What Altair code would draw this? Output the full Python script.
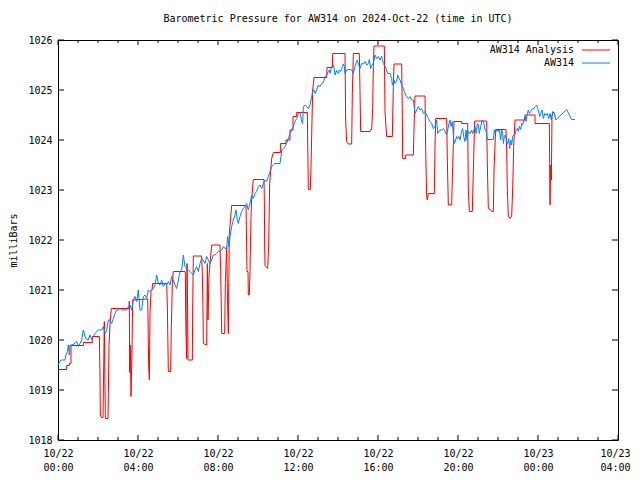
import altair as alt
import pandas as pd

TITLE = "Barometric Pressure for AW314 on 2024-Oct-22 (time in UTC)"
Y_TITLE = "milliBars"
SERIES = ["AW314 Analysis", "AW314"]
COLORS = ["#ff0000", "#0080ff"]
X_MAJOR = [0, 4, 8, 12, 16, 20, 24, 28]
X_MINOR = [1, 2, 3, 5, 6, 7, 9, 10, 11, 13, 14, 15, 17, 18, 19, 21, 22, 23, 25, 26, 27]
Y_TICKS = [1018, 1019, 1020, 1021, 1022, 1023, 1024, 1025, 1026]

# (minutes after 2024-10-22 00:00 UTC, millibars)
RED = [
    (0, 1019.41), (26, 1019.41), (26, 1019.49), (34, 1019.49), (34, 1019.53), (39, 1019.53),
    (39, 1019.89), (76, 1019.89), (76, 1019.95), (103, 1019.95), (103, 1020.07), (124, 1020.07),
    (126, 1019.3), (127, 1018.5), (130, 1018.45), (135, 1018.45), (137, 1019.4), (139, 1020.37),
    (141, 1019.0), (142, 1018.43), (150, 1018.43), (151, 1018.93), (153, 1019.89), (156, 1020.33),
    (160, 1020.63), (213, 1020.63), (214, 1020.78), (215, 1019.35), (217, 1019.9), (219, 1018.87),
    (222, 1019.8), (224, 1020.8), (269, 1020.82), (270, 1020.47), (271, 1019.93), (272, 1019.5),
    (274, 1019.2), (276, 1020.53), (279, 1020.97), (282, 1021.0), (284, 1021.13), (326, 1021.13),
    (328, 1020.7), (330, 1019.8), (331, 1019.37), (338, 1019.37), (340, 1020.27), (343, 1021.13),
    (346, 1021.37), (381, 1021.37), (382, 1021.33), (383, 1020.53), (384, 1020.1), (386, 1019.63),
    (387, 1021.53), (389, 1020.6), (390, 1019.6), (403, 1019.6), (404, 1020.6), (406, 1021.68),
    (431, 1021.68), (433, 1021.33), (435, 1020.6), (436, 1019.93), (446, 1019.9), (448, 1021.53),
    (450, 1020.4), (453, 1021.3), (461, 1021.9), (486, 1021.9), (488, 1021.4), (490, 1020.6),
    (491, 1020.13), (500, 1020.13), (502, 1021.13), (506, 1021.87), (509, 1020.67), (511, 1020.13),
    (514, 1022.13), (521, 1022.69), (564, 1022.69), (565, 1022.27), (567, 1021.37), (570, 1021.37),
    (571, 1020.9), (574, 1020.9), (576, 1021.37), (579, 1022.47), (581, 1022.8), (586, 1023.21),
    (618, 1023.21), (619, 1022.8), (620, 1021.9), (621, 1021.49), (629, 1021.43), (632, 1021.9),
    (635, 1023.13), (641, 1023.63), (646, 1023.75), (668, 1023.75), (668, 1023.93), (684, 1023.93),
    (684, 1024.0), (696, 1024.0), (696, 1024.2), (705, 1024.2), (705, 1024.47), (716, 1024.47),
    (716, 1024.55), (748, 1024.55), (749, 1024.0), (751, 1023.01), (757, 1023.01), (759, 1023.47),
    (762, 1024.4), (764, 1025.0), (768, 1025.25), (806, 1025.25), (807, 1025.45), (823, 1025.45),
    (824, 1025.73), (861, 1025.73), (863, 1024.4), (866, 1023.97), (871, 1023.92), (881, 1023.92),
    (883, 1024.93), (886, 1025.73), (904, 1025.73), (906, 1024.97), (908, 1024.17), (936, 1024.17),
    (938, 1024.21), (941, 1024.21), (944, 1024.63), (946, 1025.47), (948, 1025.88), (979, 1025.88),
    (981, 1024.57), (986, 1024.07), (1003, 1024.07), (1006, 1025.07), (1008, 1025.52), (1031, 1025.52),
    (1033, 1024.47), (1034, 1023.63), (1043, 1023.63), (1043, 1023.7), (1066, 1023.7), (1069, 1024.43),
    (1071, 1024.88), (1101, 1024.88), (1103, 1023.83), (1106, 1022.87), (1108, 1022.8), (1111, 1022.93),
    (1129, 1022.93), (1131, 1023.87), (1133, 1024.43), (1166, 1024.43), (1168, 1023.6), (1171, 1022.7),
    (1181, 1022.7), (1184, 1023.47), (1188, 1024.37), (1211, 1024.37), (1211, 1024.33), (1229, 1024.33),
    (1231, 1023.0), (1234, 1022.57), (1243, 1022.57), (1246, 1023.4), (1250, 1024.38), (1286, 1024.38),
    (1288, 1023.5), (1291, 1022.63), (1298, 1022.6), (1301, 1022.57), (1306, 1022.57), (1308, 1023.4),
    (1313, 1024.21), (1344, 1024.21), (1346, 1023.8), (1348, 1023.0), (1351, 1022.48), (1356, 1022.43),
    (1361, 1022.48), (1364, 1023.0), (1367, 1023.87), (1371, 1024.4), (1401, 1024.4), (1401, 1024.5),
    (1431, 1024.5), (1431, 1024.33), (1474, 1024.33), (1475, 1023.53), (1476, 1022.7), (1478, 1023.5),
    (1480, 1023.2), (1482, 1024.47), (1484, 1024.55), (1488, 1024.55), (1491, 1024.47),
]

BLUE = [
    (0, 1019.5), (8, 1019.6), (21, 1019.6), (24, 1019.7), (28, 1019.77), (31, 1019.9), (34, 1019.7),
    (36, 1019.9), (41, 1019.9), (51, 1019.93), (56, 1019.97), (61, 1019.87), (66, 1019.93), (71, 1020.0),
    (76, 1020.2), (81, 1020.07), (86, 1020.01), (91, 1020.0), (96, 1020.1), (101, 1020.01), (106, 1020.07),
    (111, 1020.13), (116, 1020.17), (121, 1020.2), (126, 1020.2), (131, 1020.2), (136, 1020.27),
    (141, 1020.13), (146, 1020.2), (151, 1020.4), (156, 1020.4), (161, 1020.33), (166, 1020.43),
    (171, 1020.53), (176, 1020.6), (181, 1020.6), (186, 1020.63), (191, 1020.6), (196, 1020.6),
    (201, 1020.6), (206, 1020.6), (211, 1020.67), (216, 1020.7), (221, 1020.6), (226, 1020.8),
    (231, 1020.87), (236, 1020.77), (241, 1021.0), (246, 1020.6), (251, 1020.6), (256, 1020.87),
    (261, 1020.9), (266, 1020.83), (271, 1021.0), (276, 1020.97), (281, 1021.0), (286, 1021.03),
    (291, 1021.1), (296, 1021.3), (301, 1021.13), (306, 1021.1), (311, 1021.2), (316, 1021.07),
    (321, 1021.13), (326, 1021.1), (331, 1021.17), (336, 1021.1), (341, 1021.27), (346, 1021.2),
    (351, 1021.1), (356, 1021.03), (361, 1021.2), (366, 1021.37), (371, 1021.4), (376, 1021.7),
    (381, 1021.47), (386, 1021.43), (391, 1021.4), (396, 1021.37), (401, 1021.33), (406, 1021.3),
    (411, 1021.4), (416, 1021.47), (421, 1021.37), (426, 1021.53), (431, 1021.63), (436, 1021.6),
    (441, 1021.53), (446, 1021.67), (451, 1021.6), (456, 1021.53), (461, 1021.6), (466, 1021.7),
    (471, 1021.7), (476, 1021.73), (481, 1021.77), (486, 1021.77), (491, 1021.8), (496, 1021.87),
    (501, 1021.83), (506, 1021.83), (509, 1022.07), (513, 1021.87), (516, 1022.07), (521, 1022.27),
    (526, 1022.4), (531, 1022.5), (534, 1022.6), (538, 1022.4), (541, 1022.33), (546, 1022.47),
    (551, 1022.57), (556, 1022.63), (561, 1022.67), (566, 1022.73), (571, 1022.6), (576, 1022.73),
    (581, 1022.9), (586, 1022.83), (591, 1022.93), (596, 1022.97), (601, 1023.07), (606, 1023.1),
    (611, 1023.03), (616, 1023.13), (621, 1023.2), (626, 1023.17), (631, 1023.27), (636, 1023.37),
    (641, 1023.47), (646, 1023.5), (651, 1023.53), (661, 1023.53), (666, 1023.53), (669, 1023.67),
    (671, 1023.8), (676, 1023.83), (681, 1023.87), (686, 1023.93), (689, 1024.0), (693, 1024.07),
    (696, 1024.13), (701, 1024.2), (706, 1024.27), (711, 1024.37), (716, 1024.43), (721, 1024.53),
    (726, 1024.55), (731, 1024.37), (734, 1024.33), (736, 1024.67), (741, 1024.7), (746, 1024.67),
    (751, 1024.63), (756, 1024.7), (761, 1024.87), (764, 1024.97), (768, 1025.0), (771, 1024.93),
    (776, 1025.0), (781, 1025.1), (786, 1025.07), (791, 1025.13), (796, 1025.15), (801, 1025.27),
    (806, 1025.3), (811, 1025.37), (814, 1025.4), (816, 1025.33), (821, 1025.47), (826, 1025.5),
    (829, 1025.4), (831, 1025.3), (836, 1025.39), (841, 1025.33), (844, 1025.4), (848, 1025.37),
    (851, 1025.43), (856, 1025.52), (859, 1025.47), (861, 1025.33), (866, 1025.4), (871, 1025.41),
    (876, 1025.41), (881, 1025.4), (886, 1025.33), (891, 1025.47), (896, 1025.57), (898, 1025.6),
    (901, 1025.53), (904, 1025.47), (906, 1025.43), (911, 1025.53), (916, 1025.52), (921, 1025.57),
    (926, 1025.5), (931, 1025.53), (934, 1025.61), (938, 1025.43), (941, 1025.5), (946, 1025.53),
    (951, 1025.7), (956, 1025.63), (961, 1025.67), (966, 1025.6), (971, 1025.68), (976, 1025.53),
    (981, 1025.47), (984, 1025.43), (989, 1025.33), (996, 1025.33), (1001, 1025.23), (1003, 1025.1),
    (1008, 1025.2), (1011, 1025.13), (1016, 1025.17), (1019, 1025.3), (1023, 1025.23), (1026, 1025.2),
    (1031, 1025.1), (1036, 1025.03), (1039, 1024.97), (1043, 1024.9), (1046, 1024.87), (1051, 1024.83),
    (1056, 1024.87), (1061, 1024.8), (1066, 1024.8), (1071, 1024.53), (1076, 1024.6), (1081, 1024.67),
    (1086, 1024.6), (1091, 1024.63), (1096, 1024.53), (1101, 1024.57), (1106, 1024.5), (1111, 1024.43),
    (1116, 1024.37), (1121, 1024.33), (1126, 1024.23), (1131, 1024.27), (1136, 1024.4), (1139, 1024.13),
    (1143, 1024.17), (1146, 1024.2), (1151, 1024.2), (1156, 1024.23), (1161, 1024.17), (1166, 1024.1),
    (1169, 1024.2), (1173, 1024.33), (1176, 1024.4), (1179, 1024.27), (1183, 1024.37), (1186, 1024.1),
    (1189, 1023.93), (1193, 1024.0), (1196, 1024.07), (1199, 1024.03), (1203, 1024.07), (1206, 1024.0),
    (1211, 1024.17), (1214, 1024.23), (1217, 1024.07), (1221, 1023.97), (1224, 1024.2), (1227, 1024.0),
    (1231, 1024.17), (1236, 1024.13), (1241, 1024.2), (1244, 1024.13), (1248, 1024.2), (1251, 1024.27),
    (1254, 1024.13), (1258, 1024.33), (1261, 1024.3), (1264, 1024.13), (1268, 1024.27), (1273, 1024.4),
    (1276, 1024.37), (1278, 1024.33), (1281, 1024.2), (1284, 1024.2), (1288, 1024.01), (1296, 1024.01),
    (1306, 1024.01), (1309, 1024.2), (1312, 1024.13), (1316, 1024.21), (1321, 1024.17), (1324, 1024.21),
    (1328, 1024.0), (1331, 1024.2), (1334, 1024.13), (1336, 1023.93), (1339, 1024.07), (1342, 1024.1),
    (1346, 1023.97), (1349, 1023.93), (1352, 1024.03), (1355, 1023.83), (1358, 1024.0), (1361, 1023.9),
    (1364, 1024.07), (1367, 1024.1), (1371, 1024.1), (1374, 1024.2), (1378, 1024.23), (1381, 1024.17),
    (1384, 1024.27), (1388, 1024.21), (1391, 1024.33), (1394, 1024.3), (1398, 1024.4), (1401, 1024.47),
    (1404, 1024.37), (1408, 1024.53), (1411, 1024.6), (1414, 1024.53), (1418, 1024.57), (1421, 1024.6),
    (1424, 1024.63), (1428, 1024.63), (1432, 1024.67), (1436, 1024.7), (1439, 1024.63), (1442, 1024.57),
    (1445, 1024.47), (1448, 1024.53), (1452, 1024.6), (1456, 1024.43), (1460, 1024.53), (1464, 1024.5),
    (1468, 1024.53), (1472, 1024.43), (1476, 1024.53), (1480, 1024.4), (1484, 1024.57), (1488, 1024.55),
    (1494, 1024.4), (1498, 1024.43), (1526, 1024.61), (1541, 1024.41), (1551, 1024.41),
]

FONT = "DejaVu Sans Mono"
W, H = 560, 400


def series_df(pairs):
    return pd.DataFrame({
        "t": [m / 60.0 for m, _ in pairs],
        "p": [v for _, v in pairs],
        "i": list(range(len(pairs))),
    })


xs = alt.Scale(domain=[0, 28], nice=False, zero=False)
ys = alt.Scale(domain=[1018, 1026], nice=False, zero=False)

x_axis = alt.Axis(
    values=X_MAJOR,
    labelExpr="[datum.value < 24 ? '10/22' : '10/23', (datum.value % 24 < 10 ? '0' : '') + (datum.value % 24) + ':00']",
    labelPadding=8, labelLineHeight=14, labelFlush=False, labelOverlap=False,
    labelOffset={"condition": {"test": "datum.value === 28", "value": -3}, "value": 0},
    title=None,
)
y_axis = alt.Axis(values=Y_TICKS, format="d", labelPadding=6, title=Y_TITLE, titlePadding=9)

red_line = alt.Chart(series_df(RED)).mark_line(color=COLORS[0], strokeWidth=1).encode(
    x=alt.X("t:Q", scale=xs, axis=x_axis),
    y=alt.Y("p:Q", scale=ys, axis=y_axis),
    order="i:Q",
)
blue_line = alt.Chart(series_df(BLUE)).mark_line(color=COLORS[1], strokeWidth=1).encode(
    x=alt.X("t:Q", scale=xs, axis=x_axis),
    y=alt.Y("p:Q", scale=ys, axis=y_axis),
    order="i:Q",
)

xmaj = pd.DataFrame({"t": X_MAJOR})
xmin = pd.DataFrame({"t": X_MINOR})
yt = pd.DataFrame({"p": Y_TICKS})


def xticks(df, y0, y1):
    return alt.Chart(df).mark_rule(color="black", strokeWidth=1).encode(
        x=alt.X("t:Q", scale=xs, axis=x_axis), y=alt.value(y0), y2=alt.value(y1))


def yticks(x0, x1):
    return alt.Chart(yt).mark_rule(color="black", strokeWidth=1).encode(
        y=alt.Y("p:Q", scale=ys, axis=y_axis), x=alt.value(x0), x2=alt.value(x1))


ticks = [
    xticks(xmaj, H, H - 5), xticks(xmin, H, H - 3),
    xticks(xmaj, 0, 5), xticks(xmin, 0, 3),
    yticks(0, 6), yticks(W, W - 6),
]

legend = []
for k, (name, col) in enumerate(zip(SERIES, COLORS)):
    d = pd.DataFrame({"s": [name]})
    yy = 10 + 13 * k
    legend.append(alt.Chart(d).mark_text(align="right", baseline="middle", font=FONT, fontSize=10,
                                         color="black").encode(
        x=alt.value(516), y=alt.value(yy), text="s:N"))
    legend.append(alt.Chart(d).mark_rule(color=col, strokeWidth=1).encode(
        x=alt.value(524), x2=alt.value(552), y=alt.value(yy)))

chart = alt.layer(red_line, blue_line, *ticks, *legend).properties(
    width=W, height=H,
    autosize=alt.AutoSizeParams(type="none"),
    padding={"left": 50, "top": 32, "right": 14, "bottom": 32},
    title=alt.Title(TITLE, font=FONT, fontSize=10, fontWeight="normal", color="black", offset=11),
    background="white",
).configure_view(stroke="black", strokeWidth=1).configure_axis(
    grid=False, domain=False, ticks=False,
    labelFont=FONT, labelFontSize=10, labelColor="black",
    titleFont=FONT, titleFontSize=10, titleFontWeight="normal", titleColor="black",
)

chart.save("out.html", embed_options={"renderer": "svg", "actions": False})
